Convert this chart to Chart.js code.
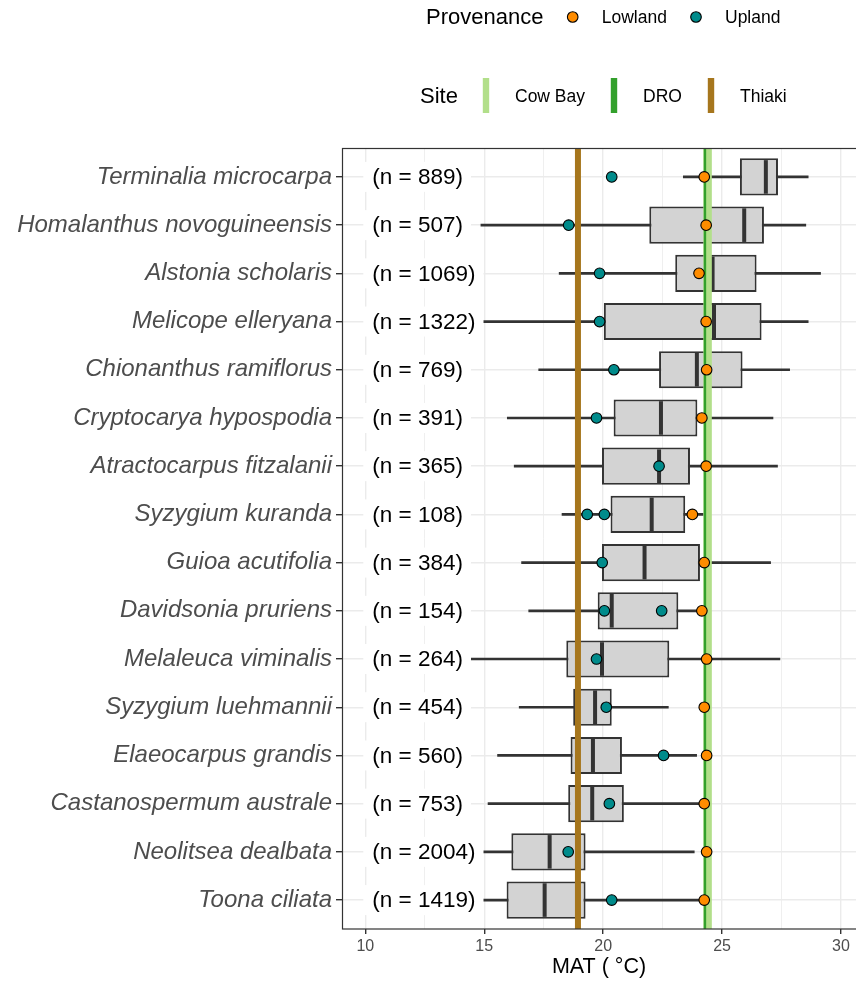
<!DOCTYPE html>
<html>
<head>
<meta charset="utf-8">
<script src="https://cdn.jsdelivr.net/npm/chart.js@4/dist/chart.umd.min.js"></script>
<style>
  html, body { margin: 0; padding: 0; background: #ffffff; }
  canvas { display: block; }
</style>
</head>
<body>
<canvas id="chart" width="856" height="984"></canvas>
<script>
// Species, listed top to bottom
const species = [
  'Terminalia microcarpa', 'Homalanthus novoguineensis', 'Alstonia scholaris',
  'Melicope elleryana', 'Chionanthus ramiflorus', 'Cryptocarya hypospodia',
  'Atractocarpus fitzalanii', 'Syzygium kuranda', 'Guioa acutifolia',
  'Davidsonia pruriens', 'Melaleuca viminalis', 'Syzygium luehmannii',
  'Elaeocarpus grandis', 'Castanospermum australe', 'Neolitsea dealbata',
  'Toona ciliata'
];
const sampleSizes = [889, 507, 1069, 1322, 769, 391, 365, 108, 384, 154, 264, 454, 560, 753, 2004, 1419];

// Box plot summaries of mean annual temperature (°C) across each species' range
const whiskerLow  = [23.37, 14.86, 18.15, 14.70, 17.29, 15.97, 16.26, 18.27, 16.57, 16.87, 14.00, 16.47, 15.56, 15.16, 14.60, 14.60];
const quartile1   = [25.75, 21.94, 23.03, 20.03, 22.35, 20.44, 19.95, 20.31, 19.95, 19.77, 18.45, 18.74, 18.63, 18.53, 16.14, 15.94];
const medianMAT   = [26.84, 25.93, 24.60, 24.66, 23.94, 22.43, 22.35, 22.04, 21.74, 20.36, 19.95, 19.66, 19.57, 19.54, 17.75, 17.54];
const quartile3   = [27.35, 26.76, 26.45, 26.66, 25.86, 23.96, 23.65, 23.45, 24.07, 23.16, 22.78, 20.36, 20.79, 20.87, 19.26, 19.26];
const whiskerHigh = [28.62, 28.52, 29.14, 28.62, 27.84, 27.14, 27.33, 24.21, 27.04, 23.93, 27.43, 22.74, 23.93, 24.20, 23.83, 24.20];

// Seed provenance MAT (°C)
const lowlandMAT = [24.25, 24.33, 24.03, 24.33, 24.35, 24.15, 24.33, 23.75, 24.25, 24.15, 24.35, 24.25, 24.35, 24.25, 24.35, 24.25];
const uplandMAT = [
  [20.36], [18.55], [19.85], [19.85], [20.45], [19.72], [22.35], [19.33, 20.05],
  [19.96], [20.05, 22.46], [19.72], [20.13], [22.54], [20.26], [18.53], [20.36]
];

// Planting sites
const siteNames = ['Cow Bay', 'DRO', 'Thiaki'];
const siteMAT = [24.39, 24.28, 18.94];
const siteColors = ['#B2DF8A', '#33A02C', '#A6761D'];

const xTicks = [10, 12.5, 15, 17.5, 20, 22.5, 25, 27.5, 30];
const xRange = [9.02, 30.63];
const yRange = [-0.6, 15.6];
const countLabelAt = 10;

const FONT = '"Liberation Sans", Arial, Helvetica, sans-serif';
const INK = '#333333';

const rowIndex = species.map((_, i) => i);

const siteDatasets = siteNames.map((name, k) => ({
  type: 'line',
  label: name,
  data: yRange.map(yv => ({ x: siteMAT[k], y: yv })),
  borderColor: siteColors[k],
  borderWidth: [8.5, 2.4, 6][k],
  pointRadius: 0,
  order: [4, 3, 3][k]
}));

const datasets = [
  {
    type: 'bar',
    label: 'whiskers',
    data: rowIndex.map(i => ({ y: i, x: [whiskerLow[i], whiskerHigh[i]] })),
    backgroundColor: INK,
    borderWidth: 0,
    barThickness: 2,
    grouped: false,
    order: 7
  },
  {
    type: 'bar',
    label: 'IQR',
    data: rowIndex.map(i => ({ y: i, x: [quartile1[i], quartile3[i]] })),
    backgroundColor: '#D3D3D3',
    borderColor: INK,
    borderWidth: 2,
    borderSkipped: false,
    barPercentage: 0.77,
    categoryPercentage: 1,
    grouped: false,
    order: 6
  },
  {
    type: 'scatter',
    label: 'median',
    data: rowIndex.map(i => ({ x: medianMAT[i], y: i })),
    pointStyle: 'line',
    rotation: 90,
    pointRadius: 16.8,
    borderColor: INK,
    borderWidth: 4,
    order: 5
  },
  ...siteDatasets,
  {
    type: 'scatter',
    label: 'Upland',
    data: uplandMAT.flatMap((vals, i) => vals.map(v => ({ x: v, y: i }))),
    pointRadius: 5.3,
    backgroundColor: '#008B8B',
    borderColor: '#000000',
    borderWidth: 1.1,
    order: 1
  },
  {
    type: 'scatter',
    label: 'Lowland',
    data: lowlandMAT.map((v, i) => ({ x: v, y: i })),
    pointRadius: 5.3,
    backgroundColor: '#FF8C00',
    borderColor: '#000000',
    borderWidth: 1.1,
    order: 0
  }
];

// Sample-size labels, panel frame and the two legends
const decorations = {
  id: 'decorations',
  afterDatasetsDraw(chart) {
    const { ctx, scales: { x, y } } = chart;
    ctx.save();
    ctx.font = '22.5px ' + FONT;
    ctx.textBaseline = 'middle';
    sampleSizes.forEach((n, i) => {
      const text = '(n = ' + n + ')';
      const w = ctx.measureText(text).width;
      const px = x.getPixelForValue(countLabelAt);
      const py = y.getPixelForValue(i);
      ctx.fillStyle = '#ffffff';
      ctx.fillRect(px - 2, py - 15, w + 17, 30);
      ctx.fillStyle = '#000000';
      ctx.fillText(text, px + 7, py + 1);
    });
    ctx.restore();
  },
  afterDraw(chart) {
    const { ctx, chartArea: a } = chart;
    ctx.save();
    ctx.strokeStyle = INK;
    ctx.lineWidth = 1.2;
    ctx.strokeRect(a.left + 0.5, a.top + 0.5, a.right - a.left + 4, a.bottom - a.top - 0.5);

    ctx.textBaseline = 'middle';
    ctx.fillStyle = '#000000';
    ctx.font = '22px ' + FONT;
    ctx.fillText('Provenance', 426, 18);
    ctx.fillText('Site', 420, 97);

    const dots = [['Lowland', '#FF8C00', 572.7, 601.7], ['Upland', '#008B8B', 696, 725]];
    dots.forEach(([name, col, cx, tx]) => {
      ctx.beginPath();
      ctx.arc(cx, 17, 5.3, 0, Math.PI * 2);
      ctx.fillStyle = col;
      ctx.fill();
      ctx.lineWidth = 1.1;
      ctx.strokeStyle = '#000000';
      ctx.stroke();
      ctx.fillStyle = '#000000';
      ctx.font = '17.5px ' + FONT;
      ctx.fillText(name, tx, 18);
    });

    const keys = [[486, 515], [614, 643], [711, 740]];
    keys.forEach(([kx, tx], k) => {
      ctx.fillStyle = siteColors[k];
      ctx.fillRect(kx - 3.2, 78, 6.4, 35);
      ctx.fillStyle = '#000000';
      ctx.font = '17.5px ' + FONT;
      ctx.fillText(siteNames[k], tx, 97);
    });
    ctx.restore();
  }
};

new Chart(document.getElementById('chart'), {
  type: 'bar',
  data: { datasets },
  plugins: [decorations],
  options: {
    indexAxis: 'y',
    responsive: false,
    animation: false,
    devicePixelRatio: 1,
    layout: { autoPadding: false, padding: { top: 148, left: 0, right: 0, bottom: 0 } },
    plugins: { legend: { display: false }, tooltip: { enabled: false } },
    scales: {
      x: {
        type: 'linear',
        position: 'bottom',
        min: xRange[0],
        max: xRange[1],
        afterBuildTicks: s => { s.ticks = xTicks.map(v => ({ value: v })); },
        afterFit: s => { s.height = 55; s.paddingLeft = 0; s.paddingRight = 0; },
        ticks: {
          autoSkip: false,
          maxRotation: 0,
          padding: 3,
          color: '#4D4D4D',
          font: { family: FONT, size: 16 },
          callback: v => (v % 5 === 0 ? String(v) : '')
        },
        grid: {
          color: '#EBEBEB',
          lineWidth: c => (c.tick && c.tick.value % 5 === 0 ? 1.4 : 0.8),
          tickColor: c => (c.tick && c.tick.value % 5 === 0 ? INK : 'rgba(0,0,0,0)'),
          tickLength: 5
        },
        border: { display: false },
        title: {
          display: true,
          text: 'MAT ( °C)',
          color: '#000000',
          font: { family: FONT, size: 21.5 },
          padding: { top: 0, bottom: 4 }
        }
      },
      y: {
        type: 'linear',
        position: 'left',
        reverse: true,
        offset: false,
        min: yRange[0],
        max: yRange[1],
        afterBuildTicks: s => { s.ticks = rowIndex.map(i => ({ value: i })); },
        afterFit: s => { s.width = 342; s.paddingTop = 0; s.paddingBottom = 0; },
        ticks: {
          autoSkip: false,
          padding: 4,
          color: '#4D4D4D',
          font: { family: FONT, size: 24, style: 'italic' },
          callback: v => species[v]
        },
        grid: { offset: false, color: '#EBEBEB', lineWidth: 1.4, tickColor: INK, tickLength: 6 },
        border: { display: false }
      }
    }
  }
});
</script>
</body>
</html>
